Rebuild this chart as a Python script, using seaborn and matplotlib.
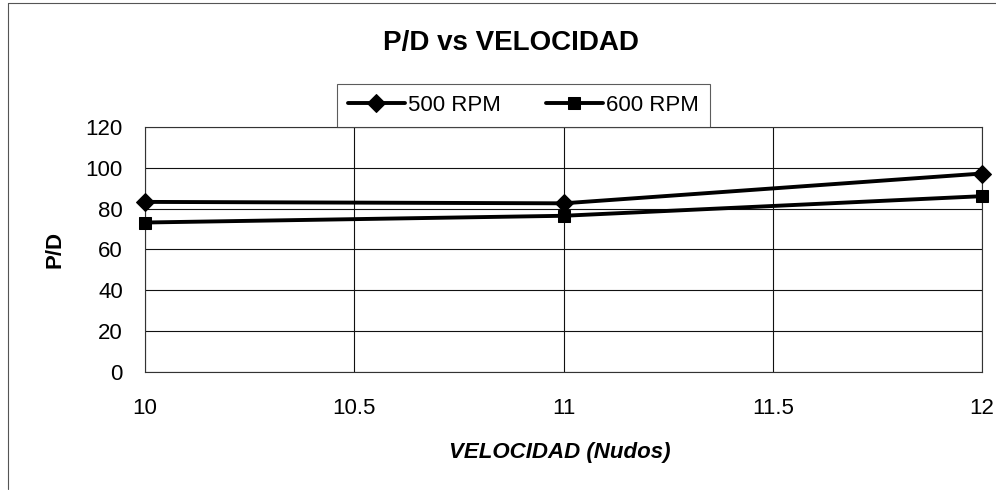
import numpy as np
import pandas as pd
import matplotlib
matplotlib.use('Agg')
import matplotlib.pyplot as plt
import seaborn as sns

velocidad = [10, 11, 12]
rpm_500 = [83.3, 82.6, 97.2]
rpm_600 = [73.2, 76.5, 86.1]
series_names = ['500 RPM', '600 RPM']
x_ticks = [10, 10.5, 11, 11.5, 12]
x_tick_labels = ['10', '10.5', '11', '11.5', '12']

data = pd.DataFrame({
    'velocidad': velocidad * 2,
    'pd': rpm_500 + rpm_600,
    'serie': [series_names[0]] * 3 + [series_names[1]] * 3,
})

sns.set_theme(style='white')
plt.rcParams['font.family'] = ['Liberation Sans', 'DejaVu Sans']
plt.rcParams['text.color'] = 'black'
plt.rcParams['axes.labelcolor'] = 'black'

fig = plt.figure(figsize=(9.96, 4.94), dpi=100)
ax = fig.add_axes([0.1456, 0.247, 0.8404, 0.496])

sns.lineplot(data=data, x='velocidad', y='pd', hue='serie', style='serie',
             markers={'500 RPM': 'D', '600 RPM': 's'}, dashes=False,
             palette={'500 RPM': 'black', '600 RPM': 'black'},
             markersize=9, linewidth=2.8, markeredgecolor='black',
             clip_on=False, zorder=5, ax=ax)

ax.set_xlim(10, 12)
ax.set_ylim(0, 120)
ax.set_xticks(x_ticks)
ax.set_xticklabels(x_tick_labels)
ax.set_yticks(range(0, 121, 20))
ax.grid(True, color='#111111', linewidth=0.8)
for side in ax.spines.values():
    side.set_color('#333333')
    side.set_linewidth(0.8)
ax.tick_params(axis='both', labelsize=16, colors='black', length=0)
ax.tick_params(axis='y', pad=16)
ax.tick_params(axis='x', pad=19)

ax.set_xlabel('VELOCIDAD (Nudos)', fontsize=16, fontweight='bold', style='italic')
ax.xaxis.set_label_coords(0.496, -0.327)
ax.xaxis.label.set_va('center')
ax.set_ylabel('P/D', fontsize=16, fontweight='bold')
ax.yaxis.set_label_coords(-0.1075, 0.5)
ax.yaxis.label.set_va('center')
fig.text(0.513, 0.913, 'P/D vs VELOCIDAD', ha='center', va='center',
         fontsize=20, fontweight='bold')

handles, labels = ax.get_legend_handles_labels()
leg = ax.legend(handles, labels, loc='lower center', bbox_to_anchor=(0.452, 1.0),
                ncol=2, frameon=True, fontsize=16, fancybox=False,
                handlelength=2.57, handletextpad=0.15, columnspacing=2.0,
                borderpad=0.5, borderaxespad=0.0)
leg.get_frame().set_edgecolor('#333333')
leg.get_frame().set_linewidth(0.8)

# chart area border (only top and left edges show in the scan)
fig.add_artist(plt.Line2D([0.008, 0.008], [0.01, 0.994], transform=fig.transFigure,
                          color='#555555', linewidth=0.8))
fig.add_artist(plt.Line2D([0.008, 1.0], [0.994, 0.994], transform=fig.transFigure,
                          color='#555555', linewidth=0.8))

fig.savefig('out.png', dpi=100, facecolor='white')
